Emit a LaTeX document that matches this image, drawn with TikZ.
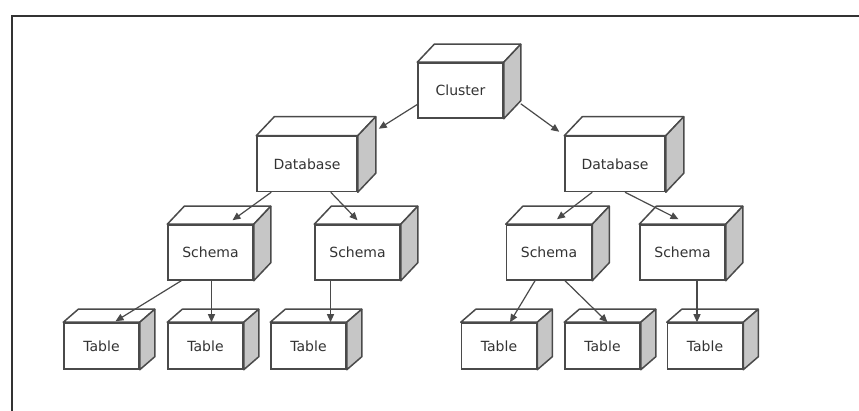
\documentclass[tikz,border=0pt]{standalone}
\usepackage{fontspec}
\setmainfont{DejaVu Sans}
\usetikzlibrary{arrows.meta,positioning}
\definecolor{edgegray}{HTML}{4A4A4A}
\definecolor{sidegray}{HTML}{C6C6C6}
\definecolor{textgray}{HTML}{333333}
\definecolor{framegray}{HTML}{333333}

\begin{document}
\begin{tikzpicture}[
  x=1pt, y=-1pt,
  boxnode/.style={rectangle, draw=edgegray, line width=1.5pt, fill=white, text=textgray,
    minimum width=85pt, minimum height=55pt, inner sep=0pt,
    font=\fontsize{14}{16}\selectfont},
  dbnode/.style={boxnode, minimum width=100pt},
  tablenode/.style={boxnode, minimum width=75pt, minimum height=46pt},
  face/.style={draw=edgegray, line width=1.5pt, line join=round},
  arrow/.style={-{Triangle[length=8pt,width=7pt]}, draw=edgegray, line width=1.2pt}
]
\clip (0,0) rectangle (859,411);

% frame
\draw[line width=2.2pt, draw=framegray] (12,16) rectangle (900,450);

% boxes
\node[boxnode] (Cl) at (460.5,90.5) {Cluster};
\node[dbnode] (DBl) at (307,164) {Database};
\node[dbnode] (DBr) at (615,164) {Database};
\node[boxnode] (S1) at (210.5,252.5) {Schema};
\node[boxnode] (S2) at (357.5,252.5) {Schema};
\node[boxnode] (S3) at (549,252.5) {Schema};
\node[boxnode] (S4) at (682.5,252.5) {Schema};
\node[tablenode] (T1) at (101.5,346) {Table};
\node[tablenode] (T2) at (205.5,346) {Table};
\node[tablenode] (T3) at (308.5,346) {Table};
\node[tablenode] (T4) at (499,346) {Table};
\node[tablenode] (T5) at (602.5,346) {Table};
\node[tablenode] (T6) at (705,346) {Table};

% top and side faces
\foreach \n/\dx/\dy in {Cl/17/18, DBl/18/19, DBr/18/19, S1/17/18, S2/17/18, S3/17/18,
    S4/17/18, T1/15/13, T2/15/13, T3/15/13, T4/15/13, T5/15/13, T6/15/13}{
  \draw[face, fill=white] (\n.north west) -- ([shift={(\dx,-\dy)}]\n.north west)
    -- ([shift={(\dx,-\dy)}]\n.north east) -- (\n.north east) -- cycle;
  \draw[face, fill=sidegray] (\n.north east) -- ([shift={(\dx,-\dy)}]\n.north east)
    -- ([shift={(\dx,-\dy)}]\n.south east) -- (\n.south east) -- cycle;
}

% arrows
\draw[arrow] ([yshift=-14pt]Cl.west) -- ([xshift=21pt,yshift=7pt]DBl.north east);
\draw[arrow] ([xshift=17pt,yshift=15pt]Cl.south east) -- ([xshift=-5pt,yshift=4pt]DBr.north west);
\draw[arrow] ([xshift=15pt]DBl.south west) -- ([xshift=22pt,yshift=4pt]S1.north);
\draw[arrow] ([xshift=-27pt]DBl.south east) -- ([yshift=4pt]S2.north);
\draw[arrow] ([xshift=28pt]DBr.south west) -- ([xshift=8pt,yshift=5pt]S3.north);
\draw[arrow] ([xshift=10pt]DBr.south) -- ([xshift=-4pt,yshift=5pt]S4.north);
\draw[arrow] ([xshift=14pt]S1.south west) -- ([xshift=14pt,yshift=1pt]T1.north);
\draw[arrow] ([xshift=1pt]S1.south) -- ([xshift=6pt]T2.north);
\draw[arrow] ([xshift=-27pt]S2.south) -- ([xshift=22pt]T3.north);
\draw[arrow] ([xshift=-14pt]S3.south) -- ([xshift=11pt]T4.north);
\draw[arrow] ([xshift=16pt]S3.south) -- ([xshift=5pt]T5.north);
\draw[arrow] ([xshift=14.5pt]S4.south) -- ([xshift=-8pt]T6.north);

\end{tikzpicture}
\end{document}
